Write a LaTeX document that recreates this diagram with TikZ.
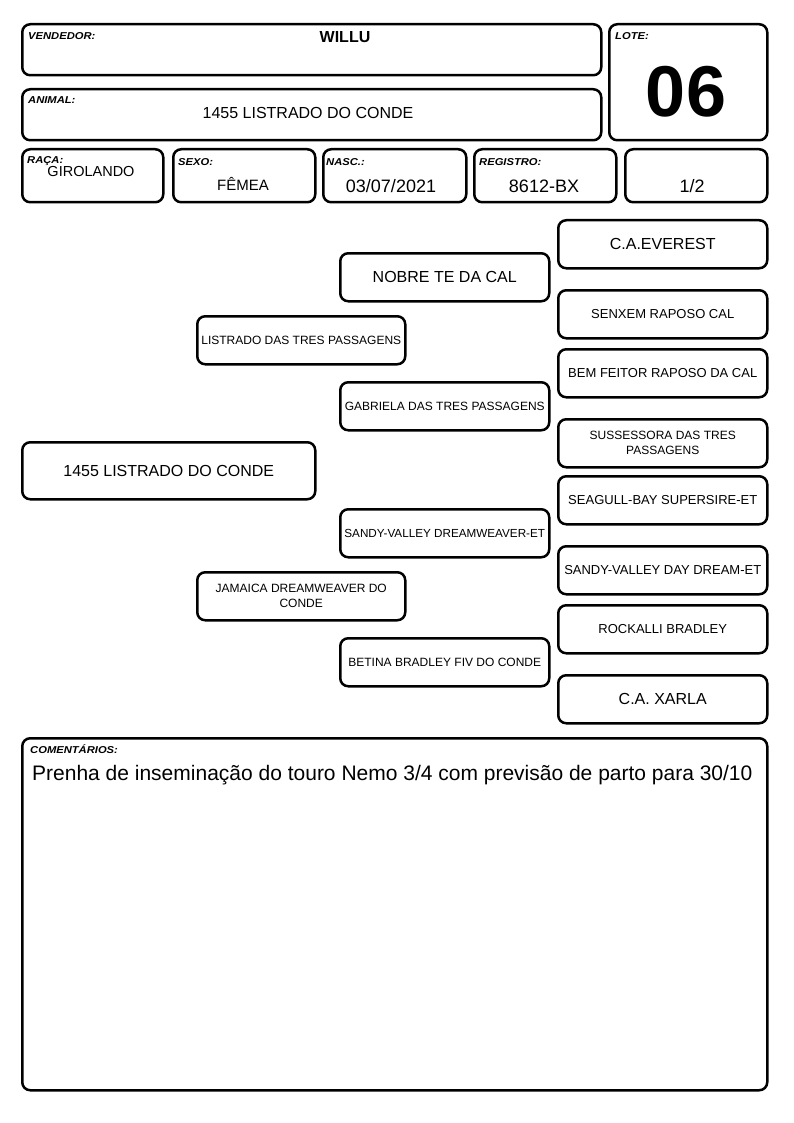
\documentclass[tikz,border=0pt]{standalone}
\usepackage{fontspec}
\setmainfont{Liberation Sans}
\newfontfamily\labfont[FakeStretch=1.12]{Liberation Sans}
\begin{document}
\begin{tikzpicture}[x=1pt,y=-1pt]
\tikzset{
  box/.style={draw, line width=2.5pt, rounded corners=8pt, anchor=north west, inner sep=0pt, align=center},
  hbox/.style={box, minimum height=53pt},
  pbox/.style={box, minimum width=209pt, minimum height=48pt},
  lab/.style={anchor=north west, inner sep=0pt, font=\labfont\fontsize{10}{11}\selectfont\bfseries\itshape},
  val/.style={inner sep=0pt, font=\fontsize{18}{20}\selectfont},
  big/.style={font=\fontsize{16}{18}\selectfont},
  mid/.style={font=\fontsize{13}{15}\selectfont},
  sml/.style={font=\fontsize{12}{15}\selectfont},
}
\useasboundingbox (0,0) rectangle (794,1123);
% header boxes
\node[box, minimum width=579pt, minimum height=51pt] (vend) at (21,23) {};
\node[box, minimum width=579pt, minimum height=51pt] (anim) at (21,88) {};
\node[box, minimum width=158pt, minimum height=116pt] (lote) at (608,23) {};
\node[hbox, minimum width=141pt] (raca) at (21,148) {};
\node[hbox, minimum width=142pt] (sexo) at (172,148) {};
\node[hbox, minimum width=143pt] (nasc) at (322,148) {};
\node[hbox, minimum width=142pt] (reg) at (473,148) {};
\node[hbox, minimum width=142pt] (frac) at (624,148) {};
% labels
\node[lab] (lvend) at (28,32) {VENDEDOR:};
\node[lab] (lanim) at (28,96) {ANIMAL:};
\node[lab] (llote) at (615,32) {LOTE:};
\node[lab] (lraca) at (27,156) {RAÇA:};
\node[lab] (lsexo) at (178,158) {SEXO:};
\node[lab] (lnasc) at (326,158) {NASC.:};
\node[lab] (lreg) at (479,158) {REGISTRO:};
% values
\node[inner sep=0pt, font=\fontsize{16}{18}\selectfont\bfseries] (willu) at (345,37) {WILLU};
\node[inner sep=0pt, font=\fontsize{16}{18}\selectfont] (animname) at (308,113) {1455 LISTRADO DO CONDE};
\node[inner sep=0pt, font=\fontsize{72}{76}\selectfont\bfseries] (lotenum) at (686,92) {06};
\node[inner sep=0pt, font=\fontsize{14.5}{16}\selectfont] (racav) at (91,172) {GIROLANDO};
\node[inner sep=0pt, font=\fontsize{15}{17}\selectfont] (sexov) at (243,184) {FÊMEA};
\node[val] (nascv) at (391,186) {03/07/2021};
\node[val] (regv) at (544,186) {8612-BX};
\node[val] (fracv) at (692,186) {1/2};
% pedigree
\node[pbox, big] (everest) at (557,219) {C.A.EVEREST};
\node[pbox, big] (nobre) at (339,252) {NOBRE TE DA CAL};
\node[pbox, mid] (senxem) at (557,289) {SENXEM RAPOSO CAL};
\node[pbox, sml, minimum width=208pt] (listrado) at (196,315) {LISTRADO DAS TRES PASSAGENS};
\node[pbox, mid] (bemfeitor) at (557,348) {BEM FEITOR RAPOSO DA CAL};
\node[pbox, sml] (gabriela) at (339,381) {GABRIELA DAS TRES PASSAGENS};
\node[pbox, sml] (sussessora) at (557,418) {SUSSESSORA DAS TRES\\PASSAGENS};
\node[box, big, minimum width=293pt, minimum height=57pt] (animal) at (21,441) {1455 LISTRADO DO CONDE};
\node[pbox, mid] (seagull) at (557,475) {SEAGULL-BAY SUPERSIRE-ET};
\node[pbox, font=\fontsize{11.7}{15}\selectfont] (sandyweaver) at (339,508) {SANDY-VALLEY DREAMWEAVER-ET};
\node[pbox, mid] (sandyday) at (557,545) {SANDY-VALLEY DAY DREAM-ET};
\node[pbox, sml, minimum width=208pt] (jamaica) at (196,571) {JAMAICA DREAMWEAVER DO\\CONDE};
\node[pbox, mid] (rockalli) at (557,604) {ROCKALLI BRADLEY};
\node[pbox, sml] (betina) at (339,637) {BETINA BRADLEY FIV DO CONDE};
\node[pbox, big] (xarla) at (557,674) {C.A. XARLA};
% comments
\node[box, minimum width=745pt, minimum height=352pt] (coment) at (21,737) {};
\node[lab] (lcoment) at (30,744) {COMENTÁRIOS:};
\node[anchor=west, inner sep=0pt, font=\fontsize{21}{23}\selectfont] (comtext) at (32,775) {Prenha de inseminação do touro Nemo 3/4 com previsão de parto para 30/10};
\end{tikzpicture}
\end{document}
